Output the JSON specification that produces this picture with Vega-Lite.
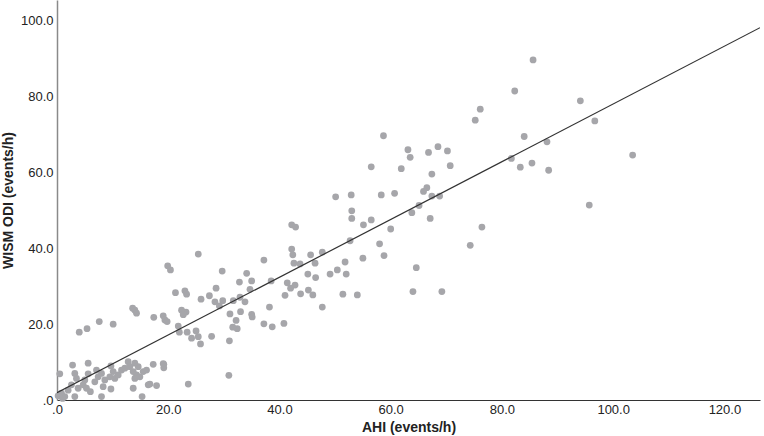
{
  "$schema": "https://vega.github.io/schema/vega-lite/v6.json",
  "width": 703,
  "height": 400,
  "autosize": {"type": "none"},
  "padding": {"left": 57, "top": 0, "right": 4, "bottom": 36},
  "background": "white",
  "config": {
    "view": {"stroke": null},
    "font": "Liberation Sans",
    "axis": {"grid": false, "ticks": false, "labelFont": "Liberation Sans", "titleFont": "Liberation Sans", "labelFontSize": 13, "titleFontSize": 14, "titleFontWeight": "bold", "labelColor": "#222222", "titleColor": "#222222"}
  },
  "datasets": {
    "pts": [
      {"ahi": 85.6, "odi": 89.7}, {"ahi": 82.3, "odi": 81.5}, {"ahi": 94.1, "odi": 78.9}, {"ahi": 96.7, "odi": 73.6},
      {"ahi": 84.0, "odi": 69.5}, {"ahi": 88.1, "odi": 68.1}, {"ahi": 81.7, "odi": 63.7}, {"ahi": 83.3, "odi": 61.4},
      {"ahi": 85.4, "odi": 62.5}, {"ahi": 88.4, "odi": 60.6}, {"ahi": 103.5, "odi": 64.6}, {"ahi": 95.7, "odi": 51.4},
      {"ahi": 76.1, "odi": 76.7}, {"ahi": 75.2, "odi": 73.8}, {"ahi": 58.7, "odi": 69.7}, {"ahi": 63.1, "odi": 66.0},
      {"ahi": 63.5, "odi": 64.0}, {"ahi": 66.8, "odi": 65.3}, {"ahi": 68.5, "odi": 66.8}, {"ahi": 70.2, "odi": 65.7},
      {"ahi": 56.5, "odi": 61.5}, {"ahi": 61.9, "odi": 61.0}, {"ahi": 70.7, "odi": 61.8}, {"ahi": 67.4, "odi": 59.6},
      {"ahi": 66.5, "odi": 56.0}, {"ahi": 65.9, "odi": 55.0}, {"ahi": 67.4, "odi": 53.8}, {"ahi": 68.8, "odi": 53.8},
      {"ahi": 50.1, "odi": 53.6}, {"ahi": 52.9, "odi": 54.1}, {"ahi": 58.3, "odi": 54.1}, {"ahi": 60.7, "odi": 54.5},
      {"ahi": 53.0, "odi": 49.9}, {"ahi": 53.0, "odi": 47.9}, {"ahi": 65.1, "odi": 51.3}, {"ahi": 63.8, "odi": 49.4},
      {"ahi": 67.1, "odi": 47.9}, {"ahi": 56.5, "odi": 47.5}, {"ahi": 60.0, "odi": 45.1}, {"ahi": 58.0, "odi": 41.2},
      {"ahi": 58.8, "odi": 38.1}, {"ahi": 76.4, "odi": 45.6}, {"ahi": 74.3, "odi": 40.8}, {"ahi": 64.6, "odi": 34.9},
      {"ahi": 64.0, "odi": 28.6}, {"ahi": 69.2, "odi": 28.6}, {"ahi": 55.1, "odi": 46.2}, {"ahi": 42.2, "odi": 46.2},
      {"ahi": 42.9, "odi": 45.6}, {"ahi": 37.2, "odi": 36.9}, {"ahi": 42.2, "odi": 39.8}, {"ahi": 42.4, "odi": 38.3},
      {"ahi": 42.6, "odi": 36.1}, {"ahi": 43.7, "odi": 35.9}, {"ahi": 45.6, "odi": 38.3}, {"ahi": 46.4, "odi": 36.1},
      {"ahi": 47.7, "odi": 39.0}, {"ahi": 52.7, "odi": 42.0}, {"ahi": 55.0, "odi": 37.4}, {"ahi": 51.8, "odi": 36.4},
      {"ahi": 50.4, "odi": 34.3}, {"ahi": 49.1, "odi": 33.2}, {"ahi": 52.0, "odi": 33.2}, {"ahi": 45.1, "odi": 33.2},
      {"ahi": 46.5, "odi": 32.3}, {"ahi": 38.5, "odi": 31.4}, {"ahi": 41.4, "odi": 30.9}, {"ahi": 42.8, "odi": 30.3},
      {"ahi": 42.0, "odi": 29.5}, {"ahi": 43.8, "odi": 28.0}, {"ahi": 41.0, "odi": 27.6}, {"ahi": 45.2, "odi": 29.0},
      {"ahi": 46.0, "odi": 27.7}, {"ahi": 51.4, "odi": 27.9}, {"ahi": 54.0, "odi": 27.7}, {"ahi": 38.2, "odi": 24.5},
      {"ahi": 47.7, "odi": 24.5}, {"ahi": 37.2, "odi": 20.1}, {"ahi": 38.7, "odi": 19.3}, {"ahi": 40.8, "odi": 20.2},
      {"ahi": 35.0, "odi": 31.4}, {"ahi": 34.7, "odi": 29.2}, {"ahi": 35.0, "odi": 22.6}, {"ahi": 25.4, "odi": 38.5},
      {"ahi": 29.7, "odi": 34.0}, {"ahi": 34.1, "odi": 33.4}, {"ahi": 32.8, "odi": 31.1}, {"ahi": 28.6, "odi": 29.5},
      {"ahi": 27.4, "odi": 27.5}, {"ahi": 25.9, "odi": 26.6}, {"ahi": 23.0, "odi": 28.8}, {"ahi": 23.3, "odi": 27.9},
      {"ahi": 28.4, "odi": 25.9}, {"ahi": 29.8, "odi": 26.2}, {"ahi": 31.7, "odi": 26.2}, {"ahi": 32.9, "odi": 27.1},
      {"ahi": 33.8, "odi": 25.9}, {"ahi": 29.2, "odi": 24.8}, {"ahi": 19.9, "odi": 35.4}, {"ahi": 20.4, "odi": 34.3},
      {"ahi": 21.3, "odi": 28.3}, {"ahi": 31.1, "odi": 22.7}, {"ahi": 33.0, "odi": 23.3}, {"ahi": 35.1, "odi": 21.9},
      {"ahi": 17.4, "odi": 21.8}, {"ahi": 19.1, "odi": 22.2}, {"ahi": 19.4, "odi": 21.1}, {"ahi": 19.8, "odi": 20.7},
      {"ahi": 22.4, "odi": 23.7}, {"ahi": 23.2, "odi": 23.2}, {"ahi": 22.7, "odi": 22.5}, {"ahi": 21.8, "odi": 19.5},
      {"ahi": 22.0, "odi": 17.9}, {"ahi": 23.4, "odi": 17.9}, {"ahi": 25.0, "odi": 18.2}, {"ahi": 24.2, "odi": 16.3},
      {"ahi": 25.4, "odi": 16.7}, {"ahi": 25.8, "odi": 14.8}, {"ahi": 27.8, "odi": 16.8}, {"ahi": 32.2, "odi": 21.0},
      {"ahi": 32.4, "odi": 18.8}, {"ahi": 31.6, "odi": 19.2}, {"ahi": 31.0, "odi": 15.6}, {"ahi": 17.3, "odi": 9.4},
      {"ahi": 19.2, "odi": 9.4}, {"ahi": 19.2, "odi": 8.5}, {"ahi": 30.9, "odi": 6.5}, {"ahi": 23.6, "odi": 4.2},
      {"ahi": 16.7, "odi": 4.2}, {"ahi": 17.9, "odi": 3.8}, {"ahi": 13.6, "odi": 24.2}, {"ahi": 14.0, "odi": 23.7},
      {"ahi": 14.3, "odi": 22.9}, {"ahi": 7.6, "odi": 20.7}, {"ahi": 10.1, "odi": 20.0}, {"ahi": 5.4, "odi": 18.8},
      {"ahi": 4.0, "odi": 17.9},
      {"ahi": 0.5, "odi": 6.9}, {"ahi": 2.8, "odi": 9.2}, {"ahi": 3.2, "odi": 7.0}, {"ahi": 3.5, "odi": 5.7},
      {"ahi": 2.6, "odi": 4.0}, {"ahi": 2.0, "odi": 2.6}, {"ahi": 0.8, "odi": 1.8}, {"ahi": 0.2, "odi": 1.1},
      {"ahi": 1.4, "odi": 0.9}, {"ahi": 5.6, "odi": 9.7}, {"ahi": 5.6, "odi": 6.9}, {"ahi": 5.0, "odi": 5.3},
      {"ahi": 4.7, "odi": 4.0}, {"ahi": 5.3, "odi": 3.1}, {"ahi": 3.8, "odi": 3.1}, {"ahi": 3.2, "odi": 0.9},
      {"ahi": 7.1, "odi": 7.9}, {"ahi": 7.4, "odi": 6.1}, {"ahi": 6.8, "odi": 4.8}, {"ahi": 8.0, "odi": 7.0},
      {"ahi": 8.6, "odi": 5.3}, {"ahi": 8.0, "odi": 0.9}, {"ahi": 8.3, "odi": 3.5}, {"ahi": 9.7, "odi": 9.0},
      {"ahi": 10.1, "odi": 7.5}, {"ahi": 9.5, "odi": 6.1}, {"ahi": 10.4, "odi": 5.7}, {"ahi": 11.0, "odi": 6.6},
      {"ahi": 11.6, "odi": 7.9}, {"ahi": 12.2, "odi": 8.4}, {"ahi": 12.8, "odi": 10.1}, {"ahi": 13.1, "odi": 8.8},
      {"ahi": 14.0, "odi": 9.7}, {"ahi": 14.6, "odi": 8.8}, {"ahi": 13.7, "odi": 7.5}, {"ahi": 14.3, "odi": 6.6},
      {"ahi": 14.0, "odi": 5.7}, {"ahi": 14.9, "odi": 6.1}, {"ahi": 15.5, "odi": 7.5}, {"ahi": 16.1, "odi": 7.9},
      {"ahi": 13.7, "odi": 3.1}, {"ahi": 15.3, "odi": 0.9}, {"ahi": 16.4, "odi": 4.0}, {"ahi": 9.7, "odi": 2.9},
      {"ahi": 19.1, "odi": 9.6}, {"ahi": 6.0, "odi": 2.2}, {"ahi": 1.0, "odi": 0.4}
    ],
    "fit": [
      {"ahi": 0, "odi": 1.9},
      {"ahi": 126.4, "odi": 98.2}
    ]
  },
  "layer": [
    {
      "data": {"name": "pts"},
      "mark": {"type": "circle", "size": 46, "color": "#a6a6aa", "opacity": 1},
      "encoding": {
        "x": {
          "field": "ahi", "type": "quantitative",
          "scale": {"domain": [0, 126.4], "nice": false, "zero": true},
          "axis": {
            "title": "AHI (events/h)", "values": [0, 20, 40, 60, 80, 100, 120],
            "labelExpr": "datum.value == 0 ? '.0' : format(datum.value, '.1f')",
            "domainColor": "#333333", "domainWidth": 1.2, "labelPadding": 3, "titlePadding": 4,
            "labelFlush": false
          }
        },
        "y": {
          "field": "odi", "type": "quantitative",
          "scale": {"domain": [0, 105.5], "nice": false, "zero": true},
          "axis": {
            "title": "WISM ODI (events/h)", "values": [0, 20, 40, 60, 80, 100],
            "labelExpr": "datum.value == 0 ? '.0' : format(datum.value, '.1f')",
            "domainColor": "#8a8a8a", "domainWidth": 1.5, "labelPadding": 4, "titlePadding": 5,
            "labelFlush": false
          }
        }
      }
    },
    {
      "data": {"name": "fit"},
      "mark": {"type": "line", "color": "#333333", "strokeWidth": 1.2, "clip": true},
      "encoding": {
        "x": {"field": "ahi", "type": "quantitative"},
        "y": {"field": "odi", "type": "quantitative"}
      }
    }
  ]
}
